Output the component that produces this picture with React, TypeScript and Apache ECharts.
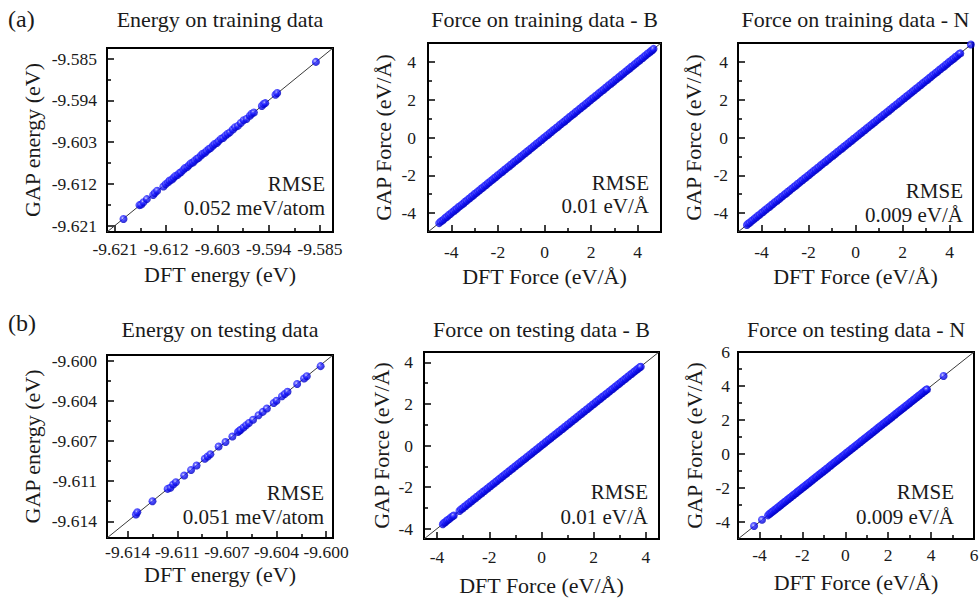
import React, { useEffect, useRef } from "react";
import * as echarts from "echarts";

const FONT = "Liberation Serif";
const TEXT = "#1a1a1a";

// ---------- text ----------
const panelTitles = [
  "Energy on training data",
  "Force on training data - B",
  "Force on training data - N",
  "Energy on testing data",
  "Force on testing data - B",
  "Force on testing data - N",
];
const xNames = [
  "DFT energy (eV)",
  "DFT Force (eV/Å)",
  "DFT Force (eV/Å)",
  "DFT energy (eV)",
  "DFT Force (eV/Å)",
  "DFT Force (eV/Å)",
];
const yNames = [
  "GAP energy (eV)",
  "GAP Force (eV/Å)",
  "GAP Force (eV/Å)",
  "GAP energy (eV)",
  "GAP Force (eV/Å)",
  "GAP Force (eV/Å)",
];
const rmseLabel = "RMSE";
const rmseValues = [
  "0.052 meV/atom",
  "0.01 eV/Å",
  "0.009 eV/Å",
  "0.051 meV/atom",
  "0.01 eV/Å",
  "0.009 eV/Å",
];
const rowLabels = ["(a)", "(b)"];

// ---------- axes ----------
const energyTrainTicks = [-9.621, -9.612, -9.603, -9.594, -9.585];
const energyTrainMinor = [-9.6165, -9.6075, -9.5985, -9.5895];
const energyTestTicks = [-9.6144, -9.6108, -9.6072, -9.6036, -9.6];
const energyTestMinor = [-9.6126, -9.609, -9.6054, -9.6018];
const forceTicks = [-4, -2, 0, 2, 4];
const forceMinor = [-3, -1, 1, 3];
const forceNTestTicks = [-4, -2, 0, 2, 4, 6];
const forceNTestMinor = [-3, -1, 1, 3, 5];

const axisRanges: number[][] = [
  [-9.6224, -9.5827],
  [-5, 5],
  [-5, 5],
  [-9.6159, -9.5995],
  [-4.5, 4.5],
  [-5, 6],
];
const majorTicks = [energyTrainTicks, forceTicks, forceTicks, energyTestTicks, forceTicks, forceNTestTicks];
const minorTicks = [energyTrainMinor, forceMinor, forceMinor, energyTestMinor, forceMinor, forceNTestMinor];
const tickDecimals = [3, 0, 0, 3, 0, 0];

// ---------- data: [DFT, GAP] ----------
const energyTrain: number[][] = [
  [-9.6195, -9.6196], [-9.6167, -9.6166], [-9.6164, -9.6165], [-9.616, -9.616],
  [-9.6154, -9.6153], [-9.6143, -9.6144], [-9.614, -9.614], [-9.6136, -9.6135],
  [-9.6125, -9.6126], [-9.6121, -9.6121], [-9.6117, -9.6117], [-9.6114, -9.6113],
  [-9.611, -9.6111], [-9.6107, -9.6107], [-9.6104, -9.6103], [-9.61, -9.6101],
  [-9.6097, -9.6097], [-9.6094, -9.6095], [-9.609, -9.609], [-9.6087, -9.6086],
  [-9.6083, -9.6084], [-9.608, -9.608], [-9.6077, -9.6076], [-9.6073, -9.6074],
  [-9.607, -9.607], [-9.6066, -9.6066], [-9.6063, -9.6064], [-9.6059, -9.6059],
  [-9.6056, -9.6055], [-9.6052, -9.6053], [-9.6049, -9.6049], [-9.6045, -9.6045],
  [-9.6042, -9.6043], [-9.6038, -9.6038], [-9.6035, -9.6034], [-9.6031, -9.6032],
  [-9.6028, -9.6028], [-9.6024, -9.6023], [-9.602, -9.6021], [-9.6016, -9.6016],
  [-9.6012, -9.6012], [-9.6008, -9.6009], [-9.6003, -9.6003], [-9.5999, -9.5998],
  [-9.5994, -9.5995], [-9.5989, -9.5989], [-9.5984, -9.5983], [-9.5979, -9.598],
  [-9.5973, -9.5973], [-9.597, -9.5969], [-9.5966, -9.5966], [-9.5952, -9.5952],
  [-9.5949, -9.5948], [-9.5946, -9.5946], [-9.5928, -9.5928], [-9.5925, -9.5924],
  [-9.5857, -9.5857],
];

const forceTrainB: number[][] = [
  [-4.52, -4.53], [-4.46, -4.45], [-4.38, -4.39], [-4.31, -4.32], [-4.25, -4.24], [-4.18, -4.19],
  [-4.11, -4.1], [-4.04, -4.05], [-3.97, -3.96], [-3.9, -3.91], [-3.83, -3.82], [-3.76, -3.77],
  [-3.69, -3.68], [-3.62, -3.63], [-3.55, -3.55], [-3.48, -3.49], [-3.41, -3.4], [-3.34, -3.35],
  [-3.27, -3.26], [-3.2, -3.21], [-3.13, -3.12], [-3.06, -3.07], [-2.99, -2.98], [-2.92, -2.93],
  [-2.85, -2.84], [-2.78, -2.79], [-2.71, -2.7], [-2.64, -2.65], [-2.57, -2.56], [-2.5, -2.51],
  [-2.43, -2.42], [-2.36, -2.37], [-2.29, -2.28], [-2.22, -2.23], [-2.15, -2.14], [-2.08, -2.09],
  [-2.01, -2.0], [-1.94, -1.95], [-1.87, -1.86], [-1.8, -1.81], [-1.73, -1.72], [-1.66, -1.67],
  [-1.59, -1.58], [-1.52, -1.53], [-1.45, -1.44], [-1.38, -1.39], [-1.31, -1.3], [-1.24, -1.25],
  [-1.17, -1.16], [-1.1, -1.11], [-1.03, -1.02], [-0.96, -0.97], [-0.89, -0.88], [-0.82, -0.83],
  [-0.75, -0.74], [-0.68, -0.69], [-0.61, -0.6], [-0.54, -0.55], [-0.47, -0.46], [-0.4, -0.41],
  [-0.33, -0.32], [-0.26, -0.27], [-0.19, -0.18], [-0.12, -0.13], [-0.05, -0.04], [0.02, 0.01],
  [0.09, 0.1], [0.16, 0.15], [0.23, 0.24], [0.3, 0.29], [0.37, 0.38], [0.44, 0.43],
  [0.51, 0.52], [0.58, 0.57], [0.65, 0.66], [0.72, 0.71], [0.79, 0.8], [0.86, 0.85],
  [0.93, 0.94], [1.0, 0.99], [1.07, 1.08], [1.14, 1.13], [1.21, 1.22], [1.28, 1.27],
  [1.35, 1.36], [1.42, 1.41], [1.49, 1.5], [1.56, 1.55], [1.63, 1.64], [1.7, 1.69],
  [1.77, 1.78], [1.84, 1.83], [1.91, 1.92], [1.98, 1.97], [2.05, 2.06], [2.12, 2.11],
  [2.19, 2.2], [2.26, 2.25], [2.33, 2.34], [2.4, 2.39], [2.47, 2.48], [2.54, 2.53],
  [2.61, 2.62], [2.68, 2.67], [2.75, 2.76], [2.82, 2.81], [2.89, 2.9], [2.96, 2.95],
  [3.03, 3.04], [3.1, 3.09], [3.17, 3.18], [3.24, 3.23], [3.31, 3.32], [3.38, 3.37],
  [3.45, 3.46], [3.52, 3.51], [3.59, 3.6], [3.66, 3.65], [3.73, 3.74], [3.8, 3.79],
  [3.87, 3.88], [3.94, 3.93], [4.01, 4.02], [4.08, 4.07], [4.15, 4.16], [4.22, 4.21],
  [4.29, 4.3], [4.36, 4.35], [4.43, 4.44], [4.5, 4.49], [4.57, 4.58], [4.63, 4.62],
  [4.68, 4.69],
];

const forceTrainN: number[][] = [
  [-4.62, -4.63], [-4.56, -4.55], [-4.49, -4.5], [-4.42, -4.41], [-4.35, -4.36], [-4.28, -4.27],
  [-4.21, -4.22], [-4.14, -4.13], [-4.07, -4.08], [-4.0, -3.99], [-3.93, -3.94], [-3.86, -3.85],
  [-3.79, -3.8], [-3.72, -3.71], [-3.65, -3.66], [-3.58, -3.57], [-3.51, -3.52], [-3.44, -3.43],
  [-3.37, -3.38], [-3.3, -3.29], [-3.23, -3.24], [-3.16, -3.15], [-3.09, -3.1], [-3.02, -3.01],
  [-2.95, -2.96], [-2.88, -2.87], [-2.81, -2.82], [-2.74, -2.73], [-2.67, -2.68], [-2.6, -2.59],
  [-2.53, -2.54], [-2.46, -2.45], [-2.39, -2.4], [-2.32, -2.31], [-2.25, -2.26], [-2.18, -2.17],
  [-2.11, -2.12], [-2.04, -2.03], [-1.97, -1.98], [-1.9, -1.89], [-1.83, -1.84], [-1.76, -1.75],
  [-1.69, -1.7], [-1.62, -1.61], [-1.55, -1.56], [-1.48, -1.47], [-1.41, -1.42], [-1.34, -1.33],
  [-1.27, -1.28], [-1.2, -1.19], [-1.13, -1.14], [-1.06, -1.05], [-0.99, -1.0], [-0.92, -0.91],
  [-0.85, -0.86], [-0.78, -0.77], [-0.71, -0.72], [-0.64, -0.63], [-0.57, -0.58], [-0.5, -0.49],
  [-0.43, -0.44], [-0.36, -0.35], [-0.29, -0.3], [-0.22, -0.21], [-0.15, -0.16], [-0.08, -0.07],
  [-0.01, -0.02], [0.06, 0.07], [0.13, 0.12], [0.2, 0.21], [0.27, 0.26], [0.34, 0.35],
  [0.41, 0.4], [0.48, 0.49], [0.55, 0.54], [0.62, 0.63], [0.69, 0.68], [0.76, 0.77],
  [0.83, 0.82], [0.9, 0.91], [0.97, 0.96], [1.04, 1.05], [1.11, 1.1], [1.18, 1.19],
  [1.25, 1.24], [1.32, 1.33], [1.39, 1.38], [1.46, 1.47], [1.53, 1.52], [1.6, 1.61],
  [1.67, 1.66], [1.74, 1.75], [1.81, 1.8], [1.88, 1.89], [1.95, 1.94], [2.02, 2.03],
  [2.09, 2.08], [2.16, 2.17], [2.23, 2.22], [2.3, 2.31], [2.37, 2.36], [2.44, 2.45],
  [2.51, 2.5], [2.58, 2.59], [2.65, 2.64], [2.72, 2.73], [2.79, 2.78], [2.86, 2.87],
  [2.93, 2.92], [3.0, 3.01], [3.07, 3.06], [3.14, 3.15], [3.21, 3.2], [3.28, 3.29],
  [3.35, 3.34], [3.42, 3.43], [3.49, 3.48], [3.56, 3.57], [3.63, 3.62], [3.7, 3.71],
  [3.77, 3.76], [3.84, 3.85], [3.91, 3.9], [3.98, 3.99], [4.05, 4.04], [4.12, 4.13],
  [4.19, 4.18], [4.26, 4.27], [4.33, 4.32], [4.4, 4.41], [4.46, 4.45], [4.91, 4.92],
];

const energyTest: number[][] = [
  [-9.6138, -9.6138], [-9.6137, -9.6136], [-9.6126, -9.6126], [-9.6115, -9.6115],
  [-9.6113, -9.6114], [-9.6111, -9.6111], [-9.6109, -9.6109], [-9.6103, -9.6103],
  [-9.6098, -9.6098], [-9.6094, -9.6094], [-9.6088, -9.6088], [-9.6086, -9.6086],
  [-9.6084, -9.6084], [-9.6078, -9.6077], [-9.6073, -9.6073], [-9.6068, -9.6068],
  [-9.6064, -9.6064], [-9.6063, -9.6063], [-9.6062, -9.6062], [-9.606, -9.606],
  [-9.6058, -9.6058], [-9.6056, -9.6056], [-9.6053, -9.6053], [-9.6049, -9.6049],
  [-9.6046, -9.6046], [-9.6043, -9.6043], [-9.6038, -9.6038], [-9.6036, -9.6036],
  [-9.6032, -9.6032], [-9.603, -9.603], [-9.6028, -9.6028], [-9.6021, -9.6021],
  [-9.6016, -9.6016], [-9.6014, -9.6014], [-9.6004, -9.6005],
];

const forceTestB: number[][] = [
  [-3.78, -3.79], [-3.73, -3.72], [-3.68, -3.69], [-3.63, -3.62], [-3.58, -3.57], [-3.52, -3.53],
  [-3.46, -3.45], [-3.4, -3.41], [-3.36, -3.37], [-3.14, -3.15], [-3.08, -3.07], [-3.02, -3.03],
  [-2.96, -2.95], [-2.9, -2.91], [-2.84, -2.83], [-2.78, -2.79], [-2.72, -2.71], [-2.66, -2.67],
  [-2.6, -2.59], [-2.54, -2.55], [-2.48, -2.47], [-2.42, -2.43], [-2.36, -2.35], [-2.3, -2.31],
  [-2.24, -2.23], [-2.18, -2.19], [-2.12, -2.11], [-2.06, -2.07], [-2.0, -1.99], [-1.94, -1.95],
  [-1.88, -1.87], [-1.82, -1.83], [-1.76, -1.75], [-1.7, -1.71], [-1.64, -1.63], [-1.58, -1.59],
  [-1.52, -1.51], [-1.46, -1.47], [-1.4, -1.39], [-1.34, -1.35], [-1.28, -1.27], [-1.22, -1.23],
  [-1.16, -1.15], [-1.1, -1.11], [-1.04, -1.03], [-0.98, -0.99], [-0.92, -0.91], [-0.86, -0.87],
  [-0.8, -0.79], [-0.74, -0.75], [-0.68, -0.67], [-0.62, -0.63], [-0.56, -0.55], [-0.5, -0.51],
  [-0.44, -0.43], [-0.38, -0.39], [-0.32, -0.31], [-0.26, -0.27], [-0.2, -0.19], [-0.14, -0.15],
  [-0.08, -0.07], [-0.02, -0.03], [0.04, 0.05], [0.1, 0.09], [0.16, 0.17], [0.22, 0.21],
  [0.28, 0.29], [0.34, 0.33], [0.4, 0.41], [0.46, 0.45], [0.52, 0.53], [0.58, 0.57],
  [0.64, 0.65], [0.7, 0.69], [0.76, 0.77], [0.82, 0.81], [0.88, 0.89], [0.94, 0.93],
  [1.0, 1.01], [1.06, 1.05], [1.12, 1.13], [1.18, 1.17], [1.24, 1.25], [1.3, 1.29],
  [1.36, 1.37], [1.42, 1.41], [1.48, 1.49], [1.54, 1.53], [1.6, 1.61], [1.66, 1.65],
  [1.72, 1.73], [1.78, 1.77], [1.84, 1.85], [1.9, 1.89], [1.96, 1.97], [2.02, 2.01],
  [2.08, 2.09], [2.14, 2.13], [2.2, 2.21], [2.26, 2.25], [2.32, 2.33], [2.38, 2.37],
  [2.44, 2.45], [2.5, 2.49], [2.56, 2.57], [2.62, 2.61], [2.68, 2.69], [2.74, 2.73],
  [2.8, 2.81], [2.86, 2.85], [2.92, 2.93], [2.98, 2.97], [3.04, 3.05], [3.1, 3.09],
  [3.16, 3.17], [3.22, 3.21], [3.28, 3.29], [3.34, 3.33], [3.4, 3.41], [3.46, 3.45],
  [3.52, 3.53], [3.58, 3.57], [3.64, 3.65], [3.7, 3.69], [3.75, 3.76], [3.8, 3.79],
];

const forceTestN: number[][] = [
  [-4.25, -4.24], [-3.88, -3.87], [-3.6, -3.61], [-3.54, -3.53], [-3.48, -3.49], [-3.42, -3.41],
  [-3.36, -3.37], [-3.3, -3.29], [-3.24, -3.25], [-3.18, -3.17], [-3.12, -3.13], [-3.06, -3.05],
  [-3.0, -3.01], [-2.94, -2.93], [-2.88, -2.89], [-2.82, -2.81], [-2.76, -2.77], [-2.7, -2.69],
  [-2.64, -2.65], [-2.58, -2.57], [-2.52, -2.53], [-2.46, -2.45], [-2.4, -2.41], [-2.34, -2.33],
  [-2.28, -2.29], [-2.22, -2.21], [-2.16, -2.17], [-2.1, -2.09], [-2.04, -2.05], [-1.98, -1.97],
  [-1.92, -1.93], [-1.86, -1.85], [-1.8, -1.81], [-1.74, -1.73], [-1.68, -1.69], [-1.62, -1.61],
  [-1.56, -1.57], [-1.5, -1.49], [-1.44, -1.45], [-1.38, -1.37], [-1.32, -1.33], [-1.26, -1.25],
  [-1.2, -1.21], [-1.14, -1.13], [-1.08, -1.09], [-1.02, -1.01], [-0.96, -0.97], [-0.9, -0.89],
  [-0.84, -0.85], [-0.78, -0.77], [-0.72, -0.73], [-0.66, -0.65], [-0.6, -0.61], [-0.54, -0.53],
  [-0.48, -0.49], [-0.42, -0.41], [-0.36, -0.37], [-0.3, -0.29], [-0.24, -0.25], [-0.18, -0.17],
  [-0.12, -0.13], [-0.06, -0.05], [0.0, -0.01], [0.06, 0.07], [0.12, 0.11], [0.18, 0.19],
  [0.24, 0.23], [0.3, 0.31], [0.36, 0.35], [0.42, 0.43], [0.48, 0.47], [0.54, 0.55],
  [0.6, 0.59], [0.66, 0.67], [0.72, 0.71], [0.78, 0.79], [0.84, 0.83], [0.9, 0.91],
  [0.96, 0.95], [1.02, 1.03], [1.08, 1.07], [1.14, 1.15], [1.2, 1.19], [1.26, 1.27],
  [1.32, 1.31], [1.38, 1.39], [1.44, 1.43], [1.5, 1.51], [1.56, 1.55], [1.62, 1.63],
  [1.68, 1.67], [1.74, 1.75], [1.8, 1.79], [1.86, 1.87], [1.92, 1.91], [1.98, 1.99],
  [2.04, 2.03], [2.1, 2.11], [2.16, 2.15], [2.22, 2.23], [2.28, 2.27], [2.34, 2.35],
  [2.4, 2.39], [2.46, 2.47], [2.52, 2.51], [2.58, 2.59], [2.64, 2.63], [2.7, 2.71],
  [2.76, 2.75], [2.82, 2.83], [2.88, 2.87], [2.94, 2.95], [3.0, 2.99], [3.06, 3.07],
  [3.12, 3.11], [3.18, 3.19], [3.24, 3.23], [3.3, 3.31], [3.36, 3.35], [3.42, 3.43],
  [3.48, 3.47], [3.54, 3.55], [3.6, 3.59], [3.66, 3.67], [3.72, 3.71], [3.77, 3.78],
  [3.81, 3.8], [4.58, 4.59],
];

const panelData = [energyTrain, forceTrainB, forceTrainN, energyTest, forceTestB, forceTestN];

// ---------- layout (pixels) ----------
const boxes = [
  { left: 107, top: 48, width: 226, height: 184, xMargin: 8, xGap: 31, yMargin: 10, yGap: 64 },
  { left: 428, top: 43, width: 233, height: 189, xMargin: 11, xGap: 33, yMargin: 12, yGap: 34 },
  { left: 738, top: 43, width: 235, height: 189, xMargin: 11, xGap: 33, yMargin: 10, yGap: 34 },
  { left: 107, top: 355, width: 226, height: 183, xMargin: 5, xGap: 25, yMargin: 10, yGap: 64 },
  { left: 424, top: 352, width: 235, height: 187, xMargin: 9, xGap: 35, yMargin: 11, yGap: 32 },
  { left: 738, top: 352, width: 236, height: 187, xMargin: 7, xGap: 32, yMargin: 8, yGap: 33 },
];
const titleY = [19, 19, 19, 329, 329, 329];
const rmsePos = [
  { right: 325, y1: 184, y2: 208 },
  { right: 649, y1: 183, y2: 206 },
  { right: 963, y1: 191, y2: 215 },
  { right: 324, y1: 493, y2: 517 },
  { right: 648, y1: 492, y2: 517 },
  { right: 954, y1: 492, y2: 517 },
];

const ballColor = {
  type: "radial",
  x: 0.38,
  y: 0.38,
  r: 0.62,
  colorStops: [
    { offset: 0, color: "#e6e6ff" },
    { offset: 0.22, color: "#5a5aff" },
    { offset: 0.55, color: "#1414ff" },
    { offset: 1, color: "#0000c0" },
  ],
};

function buildOption() {
  const grid: any[] = [];
  const xAxis: any[] = [];
  const yAxis: any[] = [];
  const series: any[] = [];
  const graphic: any[] = [];
  const tickLine = { color: "#000", width: 1.5 };

  boxes.forEach((b, i) => {
    const [mn, mx] = axisRanges[i];
    const dec = tickDecimals[i];
    const fmt = (v: number) => (dec > 0 ? v.toFixed(dec) : String(Math.round(v)));
    grid.push({
      left: b.left,
      top: b.top,
      width: b.width,
      height: b.height,
      show: true,
      borderColor: "#000",
      borderWidth: 2,
      backgroundColor: "transparent",
      containLabel: false,
      outerBoundsMode: "none",
    });
    const common = {
      type: "value",
      gridIndex: i,
      min: mn,
      max: mx,
      axisLine: { show: false, onZero: false },
      splitLine: { show: false },
    };
    const labelStyle = { fontFamily: FONT, fontSize: 17.5, color: TEXT };
    const nameStyle = { fontFamily: FONT, fontSize: 22, color: TEXT };
    xAxis.push({
      ...common,
      position: "bottom",
      axisTick: { inside: true, length: 7, lineStyle: tickLine, customValues: majorTicks[i] },
      axisLabel: { customValues: majorTicks[i], formatter: fmt, margin: b.xMargin, ...labelStyle },
      name: xNames[i],
      nameLocation: "middle",
      nameGap: b.xGap,
      nameTextStyle: nameStyle,
    });
    xAxis.push({
      ...common,
      position: "bottom",
      axisTick: { inside: true, length: 4, lineStyle: tickLine, customValues: minorTicks[i] },
      axisLabel: { show: false },
    });
    yAxis.push({
      ...common,
      position: "left",
      axisTick: { inside: true, length: 7, lineStyle: tickLine, customValues: majorTicks[i] },
      axisLabel: { customValues: majorTicks[i], formatter: fmt, margin: b.yMargin, ...labelStyle },
      name: yNames[i],
      nameLocation: "middle",
      nameGap: b.yGap,
      nameTextStyle: nameStyle,
    });
    yAxis.push({
      ...common,
      position: "left",
      axisTick: { inside: true, length: 4, lineStyle: tickLine, customValues: minorTicks[i] },
      axisLabel: { show: false },
    });

    series.push({
      type: "line",
      xAxisIndex: 2 * i,
      yAxisIndex: 2 * i,
      data: [
        [mn, mn],
        [mx, mx],
      ],
      symbol: "none",
      silent: true,
      lineStyle: { color: "#3a3a3a", width: 1 },
      z: 2,
    });
    series.push({
      type: "scatter",
      xAxisIndex: 2 * i,
      yAxisIndex: 2 * i,
      data: panelData[i],
      symbol: "circle",
      symbolSize: 8,
      itemStyle: { color: ballColor },
      z: 3,
    });

    const textStyle = { fill: TEXT, fontFamily: FONT, textVerticalAlign: "middle" };
    graphic.push({
      type: "text",
      x: b.left + b.width / 2,
      y: titleY[i],
      style: { ...textStyle, fontSize: 22, text: panelTitles[i], textAlign: "center" },
    });
    const rp = rmsePos[i];
    graphic.push({
      type: "text",
      x: rp.right,
      y: rp.y1,
      z: 10,
      style: { ...textStyle, fontSize: 21, text: rmseLabel, textAlign: "right" },
    });
    graphic.push({
      type: "text",
      x: rp.right,
      y: rp.y2,
      z: 10,
      style: { ...textStyle, fontSize: 21, text: rmseValues[i], textAlign: "right" },
    });
  });

  [19, 323].forEach((y, r) => {
    graphic.push({
      type: "text",
      x: 8,
      y,
      style: {
        text: rowLabels[r],
        fill: TEXT,
        fontFamily: FONT,
        fontSize: 24,
        textAlign: "left",
        textVerticalAlign: "middle",
      },
    });
  });

  return {
    animation: false,
    backgroundColor: "#ffffff",
    textStyle: { fontFamily: FONT },
    grid,
    xAxis,
    yAxis,
    series,
    graphic,
  };
}

export default function App() {
  const ref = useRef<HTMLDivElement>(null);
  useEffect(() => {
    if (!ref.current) return;
    const chart = echarts.init(ref.current, undefined, { renderer: "svg" });
    chart.setOption(buildOption() as any);
    return () => chart.dispose();
  }, []);
  return (
    <div
      ref={ref}
      style={{ position: "absolute", left: 0, top: 0, width: 980, height: 605 }}
    />
  );
}
